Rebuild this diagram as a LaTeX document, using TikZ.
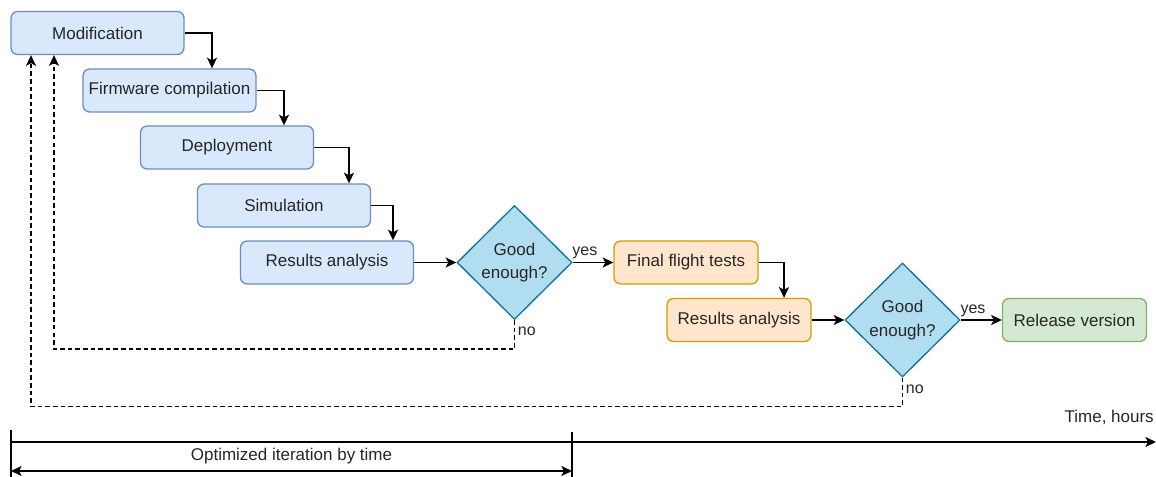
\documentclass[tikz,border=0pt]{standalone}
\usepackage{fontspec}
\setmainfont{Liberation Sans}
\usepackage{xcolor}
\usepackage{tikz}
\usetikzlibrary{arrows.meta, calc, shapes.geometric}

\definecolor{blueFill}{HTML}{DAE8FC}
\definecolor{blueLine}{HTML}{6C8EBF}
\definecolor{orangeFill}{HTML}{FFE6CC}
\definecolor{orangeLine}{HTML}{D79B00}
\definecolor{greenFill}{HTML}{D5E8D4}
\definecolor{greenLine}{HTML}{82B366}
\definecolor{decFill}{HTML}{B1DDF0}
\definecolor{decLine}{HTML}{10739E}

\begin{document}
\begin{tikzpicture}[x=0.75pt, y=-0.75pt,
  box/.style={draw, rounded corners=5pt, line width=1pt, minimum height=32.25pt, inner sep=0pt,
    font=\fontsize{12.75}{16}\selectfont, text=black!85},
  bluebox/.style={box, fill=blueFill, draw=blueLine, minimum width=129.75pt},
  orangebox/.style={box, fill=orangeFill, draw=orangeLine, minimum width=108pt},
  greenbox/.style={box, fill=greenFill, draw=greenLine, minimum width=108pt},
  decision/.style={diamond, draw=decLine, fill=decFill, line width=1pt, minimum width=86.25pt,
    minimum height=85.5pt, inner sep=0pt, align=center, font=\fontsize{12.75}{17.5}\selectfont, text=black!85},
  arrowline/.style={-{Stealth[length=8pt,width=7.5pt,inset=2pt]}, line width=1.2pt},
  dashback/.style={arrowline, dash pattern=on 3.4pt off 2.3pt},
  small/.style={font=\fontsize{12}{13}\selectfont, text=black!85, inner sep=2pt},
  label/.style={font=\fontsize{12.75}{16}\selectfont, text=black!85, inner sep=0pt}]
\useasboundingbox (0,0) rectangle (1156,477);

% simulation loop
\node[bluebox] (mod) at (97.5,33) {Modification};
\node[bluebox] (fw) at (169.5,90.5) {Firmware compilation};
\node[bluebox] (dep) at (227,147.5) {Deployment};
\node[bluebox] (sim) at (284,205.5) {Simulation};
\node[bluebox] (res) at (327,262.5) {Results analysis};
\node[decision] (dec1) at (514.5,262.5) {Good\\enough?};

% flight test loop
\node[orangebox] (fin) at (686,262.5) {Final flight tests};
\node[orangebox] (res2) at (739,320) {Results analysis};
\node[decision] (dec2) at (902.5,320) {Good\\enough?};
\node[greenbox] (rel) at (1074.5,320) {Release version};

\draw[arrowline] (mod.east) -| ($(fw.north)+(42.5,0)$);
\draw[arrowline] (fw.east) -| ($(dep.north)+(57,0)$);
\draw[arrowline] (dep.east) -| ($(sim.north)+(65,0)$);
\draw[arrowline] (sim.east) -| ($(res.north)+(66,0)$);
\draw[arrowline] (res.east) -- (dec1.west);
\draw[arrowline] (dec1.east) -- node[small, above, pos=0.3] {yes} (fin.west);
\draw[arrowline] (fin.east) -| ($(res2.north)+(45,0)$);
\draw[arrowline] (res2.east) -- (dec2.west);
\draw[arrowline] (dec2.east) -- node[small, above, pos=0.3] {yes} (rel.west);

% back to modification
\draw[dashback] (dec1.south) -- node[small, right, pos=0.4] {no} ++(0,29) -| ($(mod.south)+(-43.5,0)$);
\draw[dashback] (dec2.south) -- node[small, right, pos=0.4] {no} ++(0,29) -| ($(mod.south)+(-66.5,0)$);

% time axis
\coordinate (tstart) at (11,442);
\coordinate (tend) at (1156,442);
\coordinate (tickA) at (11,430);
\coordinate (tickB) at (572,432);
\draw[arrowline] (tstart) -- (tend);
\draw[line width=1.2pt] (tickA) -- (tickA |- 0,477);
\draw[line width=1.2pt] (tickB) -- (tickB |- 0,477);
\draw[line width=1.2pt, {Stealth[length=8pt,width=7.5pt,inset=2pt]}-{Stealth[length=8pt,width=7.5pt,inset=2pt]}]
  (tickA |- 0,471) -- (tickB |- 0,471);
\node[label, anchor=east] (timelbl) at (1154,417) {Time, hours};
\node[label] (optlbl) at (291.5,456) {Optimized iteration by time};
\end{tikzpicture}
\end{document}
